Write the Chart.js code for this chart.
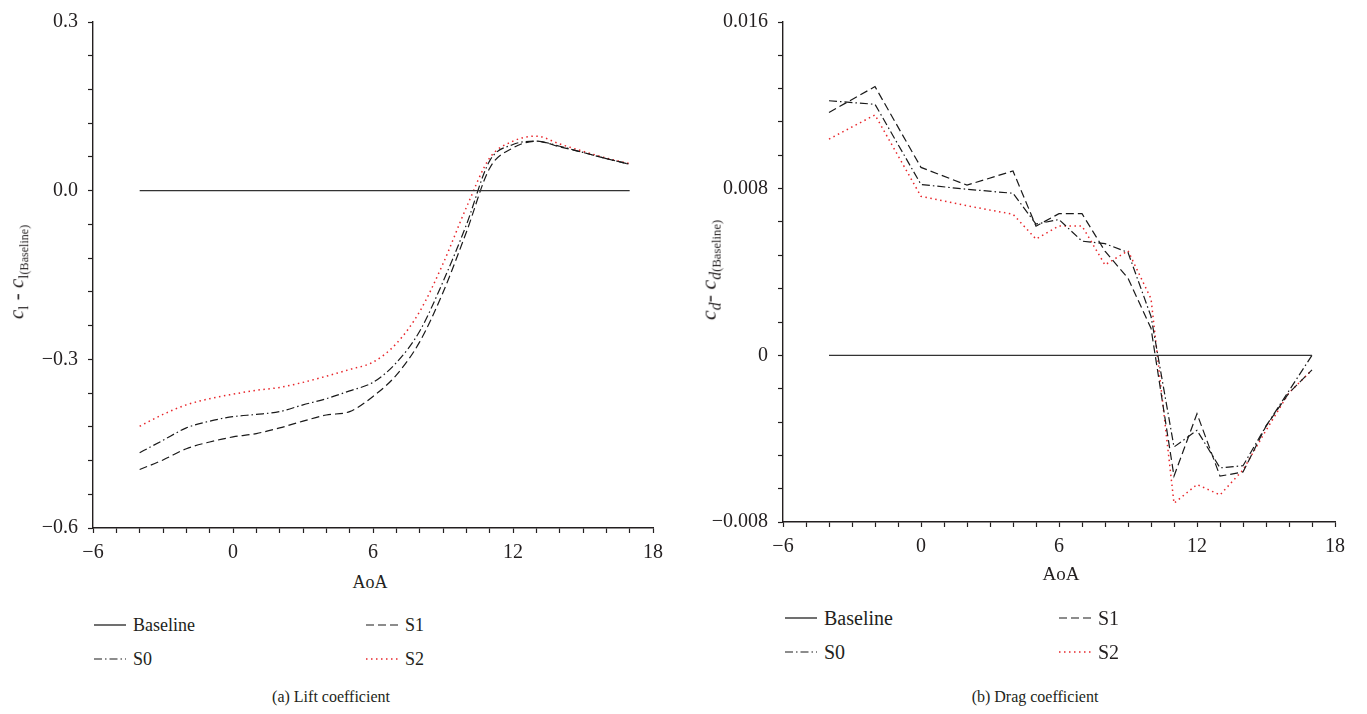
<!DOCTYPE html>
<html>
<head>
<meta charset="utf-8">
<script src="https://cdn.jsdelivr.net/npm/chart.js@4.4.1/dist/chart.umd.min.js"></script>
<style>
    body { margin: 0; background: #fff; width: 1367px; height: 714px; position: relative; overflow: hidden;
           font-family: "Liberation Serif", "DejaVu Serif", serif; color: #231f20; }
    #liftBox { position: absolute; left: 0; top: 0; width: 683px; height: 570px; }
    #dragBox { position: absolute; left: 683px; top: 0; width: 684px; height: 570px; }
    .ytitle { position: absolute; transform: translate(-50%, -50%) rotate(-90deg); white-space: nowrap; }
    .ytitle .c { font-style: italic; }
    .ytitle sub { vertical-align: -0.3em; font-size: 0.72em; }
    .ytitle sub small { font-size: 0.8em; }
    .xtitle { position: absolute; transform: translateX(-50%); white-space: nowrap; }
    .caption { position: absolute; transform: translateX(-50%); white-space: nowrap; font-size: 16px; }
    .leg { position: absolute; display: flex; align-items: center; height: 24px; white-space: nowrap; }
    .leg svg { margin-right: 7px; }
</style>
</head>
<body>
<div id="liftBox"><canvas id="liftChart" width="683" height="570"></canvas></div>
<div id="dragBox"><canvas id="dragChart" width="684" height="570"></canvas></div>

<div class="ytitle" style="left:18px; top:272px; font-size:21px;"><span class="c">c</span><sub>l</sub> - <span class="c">c</span><sub>l<small>(Baseline)</small></sub></div>
<div class="ytitle" style="left:710px; top:270px; font-size:22px;"><span class="c">c</span><sub><i>d</i></sub>- <span class="c">c</span><sub><i>d</i><small>(Baseline)</small></sub></div>

<div class="xtitle" style="left:370px; top:572px; font-size:18px;">AoA</div>
<div class="xtitle" style="left:1061px; top:563px; font-size:19px;">AoA</div>

<div id="legends"></div>

<div class="caption" style="left:331px; top:688px;">(a) Lift coefficient</div>
<div class="caption" style="left:1035px; top:688px;">(b) Drag coefficient</div>

<script>
// angle of attack
const aoa = [-4, -3, -2, -1, 0, 1, 2, 3, 4, 5, 6, 7, 8, 9, 10, 11, 12, 13, 14, 15, 16, 17];
const baselineAoa = [-4, 17];
const baselineDelta = [0, 0];

// lift coefficient difference
const liftS0 = [-0.466, -0.444, -0.422, -0.410, -0.402, -0.398, -0.393, -0.381, -0.370, -0.356, -0.341, -0.306, -0.250, -0.162, -0.061, 0.053, 0.082, 0.088, 0.079, 0.068, 0.057, 0.047];
const liftS1 = [-0.496, -0.479, -0.459, -0.447, -0.438, -0.432, -0.422, -0.410, -0.399, -0.393, -0.366, -0.328, -0.269, -0.181, -0.074, 0.040, 0.076, 0.088, 0.078, 0.068, 0.057, 0.047];
const liftS2 = [-0.419, -0.398, -0.381, -0.370, -0.362, -0.355, -0.350, -0.341, -0.330, -0.318, -0.305, -0.272, -0.215, -0.130, -0.030, 0.058, 0.088, 0.097, 0.083, 0.070, 0.058, 0.048];

// drag coefficient difference
const dragAoa = [-4, -2, 0, 2, 4, 5, 6, 7, 8, 9, 10, 11, 12, 13, 14, 15, 16, 17];
const dragS0 = [0.01222, 0.01205, 0.0082, 0.00797, 0.00778, 0.0063, 0.00652, 0.00548, 0.00536, 0.00494, 0.00187, -0.0044, -0.0036, -0.0054, -0.0053, -0.0034, -0.0017, 0.0];
const dragS1 = [0.01166, 0.0129, 0.00902, 0.00817, 0.00885, 0.0062, 0.0068, 0.0068, 0.0050, 0.0037, 0.0013, -0.0058, -0.0028, -0.0058, -0.0056, -0.0034, -0.0018, -0.0007];
const dragS2 = [0.01038, 0.01154, 0.00763, 0.00718, 0.00677, 0.00558, 0.00621, 0.00621, 0.00434, 0.00502, 0.00272, -0.0071, -0.0062, -0.0067, -0.0055, -0.0036, -0.0018, -0.0007];

// ticks
const xMin = -6, xMax = 18, xStep = 1;
const xMajor = [-6, 0, 6, 12, 18];
const xLabels = ['\u22126', '0', '6', '12', '18'];
const liftMajor = [-0.6, -0.3, 0, 0.3];
const liftLabels = ['\u22120.6', '\u22120.3', '0.0', '0.3'];
const liftStep = 0.06;
const dragMajor = [-0.008, 0, 0.008, 0.016];
const dragLabels = ['\u22120.008', '0', '0.008', '0.016'];
const dragStep = 0.0016;

const ink = '#231f20';
const red = '#e8262b';
const styles = {
    Baseline: { color: '#333', dash: [], width: 1.4 },
    S0: { color: '#1a1a1a', dash: [8, 3, 1.5, 3], width: 1.2 },
    S1: { color: '#1a1a1a', dash: [8, 4], width: 1.2 },
    S2: { color: red, dash: [1.5, 3.5], width: 1.5 }
};

Chart.defaults.font.family = 'Liberation Serif';

function toPoints(xs, ys) {
    return xs.map((x, i) => ({ x: x, y: ys[i] }));
}

function tickList(min, max, step) {
    let out = [];
    let n = Math.round((max - min) / step);
    for (let k = 0; k <= n; k++) out.push({ value: min + k * step });
    return out;
}

function labelFor(v, majors, labels) {
    for (let i = 0; i < majors.length; i++) {
        if (Math.abs(v - majors[i]) < 1e-9) return labels[i];
    }
    return '';
}

function makeDataset(name, points, smooth) {
    const s = styles[name];
    return {
        label: name,
        data: points,
        borderColor: s.color,
        borderWidth: s.width,
        borderDash: s.dash,
        pointRadius: 0,
        fill: false,
        tension: 0,
        cubicInterpolationMode: smooth ? 'monotone' : 'default'
    };
}

function makeChart(id, datasets, yMin, yMax, yStep, yMajor, yLabels, pad, yWidth, xHeight) {
    const font = { family: 'Liberation Serif', size: 20 };
    return new Chart(document.getElementById(id).getContext('2d'), {
        type: 'line',
        data: { datasets: datasets },
        options: {
            responsive: false,
            animation: false,
            layout: { padding: pad },
            plugins: { legend: { display: false }, tooltip: { enabled: false } },
            scales: {
                x: {
                    type: 'linear', min: xMin, max: xMax,
                    afterBuildTicks: s => { s.ticks = tickList(xMin, xMax, xStep); },
                    afterFit: s => { s.height = xHeight; },
                    ticks: { autoSkip: false, maxRotation: 0, padding: 8, color: ink, font: font,
                             callback: v => labelFor(v, xMajor, xLabels) },
                    grid: { drawOnChartArea: false, tickLength: 5, tickColor: ink, tickWidth: 1.2 },
                    border: { color: ink, width: 1.4 }
                },
                y: {
                    type: 'linear', min: yMin, max: yMax,
                    afterBuildTicks: s => { s.ticks = tickList(yMin, yMax, yStep); },
                    afterFit: s => { s.width = yWidth; },
                    ticks: { autoSkip: false, padding: 10, color: ink, font: font,
                             callback: v => labelFor(v, yMajor, yLabels) },
                    grid: { drawOnChartArea: false, tickLength: 5, tickColor: ink, tickWidth: 1.2 },
                    border: { color: ink, width: 1.4 }
                }
            }
        }
    });
}

const liftChart = makeChart('liftChart', [
    makeDataset('Baseline', toPoints(baselineAoa, baselineDelta), false),
    makeDataset('S1', toPoints(aoa, liftS1), true),
    makeDataset('S0', toPoints(aoa, liftS0), true),
    makeDataset('S2', toPoints(aoa, liftS2), true)
], -0.6, 0.3, liftStep, liftMajor, liftLabels, { top: 15, right: 30, left: 0, bottom: 0 }, 93, 42);

const dragChart = makeChart('dragChart', [
    makeDataset('Baseline', toPoints(baselineAoa, baselineDelta), false),
    makeDataset('S1', toPoints(dragAoa, dragS1), false),
    makeDataset('S0', toPoints(dragAoa, dragS0), false),
    makeDataset('S2', toPoints(dragAoa, dragS2), false)
], -0.008, 0.016, dragStep, dragMajor, dragLabels, { top: 19, right: 32, left: 0, bottom: 0 }, 100, 48);

// redraw once fonts are settled so canvas labels use the serif face
if (document.fonts && document.fonts.ready) {
    document.fonts.ready.then(() => { liftChart.update(); dragChart.update(); });
}

// legends: two columns, Baseline/S1 on top, S0/S2 below
const legendSpots = [
    { name: 'Baseline', x: 94, y: 625, size: 18 }, { name: 'S1', x: 366, y: 625, size: 18 },
    { name: 'S0', x: 94, y: 659, size: 18 }, { name: 'S2', x: 366, y: 659, size: 18 },
    { name: 'Baseline', x: 785, y: 618, size: 20 }, { name: 'S1', x: 1059, y: 618, size: 20 },
    { name: 'S0', x: 785, y: 652, size: 20 }, { name: 'S2', x: 1059, y: 652, size: 20 }
];
const legendBox = document.getElementById('legends');
legendSpots.forEach(spot => {
    const s = styles[spot.name];
    const div = document.createElement('div');
    div.className = 'leg';
    div.style.left = spot.x + 'px';
    div.style.top = (spot.y - 12) + 'px';
    div.style.fontSize = spot.size + 'px';
    div.innerHTML = '<svg width="32" height="4"><line x1="0" y1="2" x2="32" y2="2" stroke="' + s.color +
        '" stroke-width="' + s.width + '" stroke-dasharray="' + (s.dash.length ? s.dash.join(' ') : 'none') + '"/></svg>' +
        '<span>' + spot.name + '</span>';
    legendBox.appendChild(div);
});
</script>
</body>
</html>
